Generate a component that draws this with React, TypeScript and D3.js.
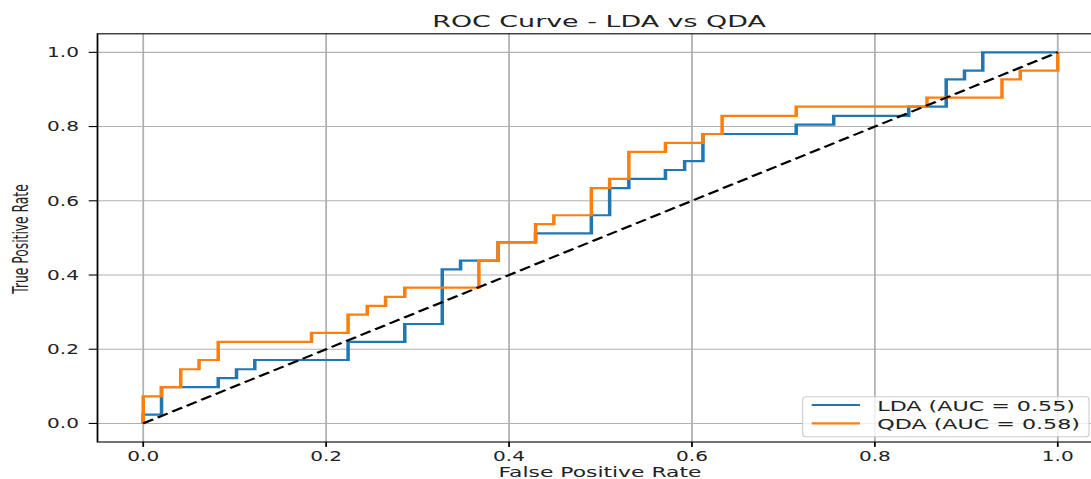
import React, { useRef, useEffect } from "react";
import * as d3 from "d3";

// ROC corner points [fpr, tpr]
const ldaPoints: [number, number][] = [
    [0, 0], [0, 0.024], [0.020, 0.098], [0.082, 0.122], [0.102, 0.146],
    [0.122, 0.171], [0.224, 0.220], [0.286, 0.268], [0.327, 0.415], [0.347, 0.439],
    [0.388, 0.488], [0.429, 0.512], [0.490, 0.561], [0.510, 0.634], [0.531, 0.659],
    [0.571, 0.683], [0.592, 0.707], [0.612, 0.780], [0.714, 0.805], [0.755, 0.829],
    [0.837, 0.854], [0.878, 0.927], [0.898, 0.951], [0.918, 1.0], [1.0, 1.0],
];
const qdaPoints: [number, number][] = [
    [0, 0], [0, 0.073], [0.020, 0.098], [0.041, 0.146], [0.061, 0.171],
    [0.082, 0.220], [0.184, 0.244], [0.224, 0.293], [0.245, 0.317], [0.265, 0.341],
    [0.286, 0.366], [0.367, 0.439], [0.388, 0.488], [0.429, 0.537], [0.449, 0.561],
    [0.490, 0.634], [0.510, 0.659], [0.531, 0.732], [0.571, 0.756], [0.612, 0.780],
    [0.633, 0.829], [0.714, 0.854], [0.857, 0.878], [0.939, 0.927], [0.959, 0.951],
    [1.0, 1.0],
];
const chancePoints: [number, number][] = [[0, 0], [1, 1]];
const xTicks = [0, 0.2, 0.4, 0.6, 0.8, 1.0];
const yTicks = [0, 0.2, 0.4, 0.6, 0.8, 1.0];
const seriesNames = ["LDA (AUC = 0.55)", "QDA (AUC = 0.58)"];
const seriesColors = ["#1f77b4", "#ff7f0e"];

const W = 1091;
const H = 479;
const SX = 1.6; // the picture is stretched sideways

export default function App() {
    const ref = useRef<SVGSVGElement>(null);

    useEffect(() => {
        if (!ref.current) return;
        const svg = d3.select(ref.current);
        svg.selectAll("*").remove();

        const x = d3.scaleLinear().domain([-0.05, 1.05]).range([97.5 / SX, 1103.5 / SX]);
        const y = d3.scaleLinear().domain([-0.05, 1.05]).range([442, 33.8]);
        const [x0, x1] = x.range();
        const [yb, yt] = y.range();

        const g = svg.append("g").attr("transform", `scale(${SX},1)`);

        // grid
        g.selectAll(".gx").data(xTicks).enter().append("line")
            .attr("x1", d => x(d)).attr("x2", d => x(d))
            .attr("y1", yb).attr("y2", yt)
            .attr("stroke", "#b0b0b0").attr("stroke-width", 1.1);
        g.selectAll(".gy").data(yTicks).enter().append("line")
            .attr("x1", x0).attr("x2", x1)
            .attr("y1", d => y(d)).attr("y2", d => y(d))
            .attr("stroke", "#b0b0b0").attr("stroke-width", 1.1);

        // curves
        const step = d3.line<[number, number]>()
            .x(d => x(d[0])).y(d => y(d[1]))
            .curve(d3.curveStepAfter);
        [ldaPoints, qdaPoints].forEach((pts, i) => {
            g.append("path").datum(pts)
                .attr("fill", "none")
                .attr("stroke", seriesColors[i])
                .attr("stroke-width", 2.2)
                .attr("d", step);
        });
        g.append("path").datum(chancePoints)
            .attr("fill", "none")
            .attr("stroke", "#000")
            .attr("stroke-width", 2)
            .attr("stroke-dasharray", "7.4 3.4")
            .attr("d", d3.line<[number, number]>().x(d => x(d[0])).y(d => y(d[1])));

        // spines and ticks
        g.append("rect")
            .attr("x", x0).attr("y", yt)
            .attr("width", x1 - x0).attr("height", yb - yt)
            .attr("fill", "none").attr("stroke", "#000").attr("stroke-width", 1.1);
        g.selectAll(".tx").data(xTicks).enter().append("line")
            .attr("x1", d => x(d)).attr("x2", d => x(d))
            .attr("y1", yb).attr("y2", yb + 4.9)
            .attr("stroke", "#000").attr("stroke-width", 1.1);
        g.selectAll(".ty").data(yTicks).enter().append("line")
            .attr("x1", x0 - 5.5).attr("x2", x0)
            .attr("y1", d => y(d)).attr("y2", d => y(d))
            .attr("stroke", "#000").attr("stroke-width", 1.1);

        const text = (px: number, py: number, str: string, size: number, anchor: string, sx: number, extra = "") =>
            svg.append("text")
                .attr("transform", `translate(${px},${py}) scale(${sx},1)${extra}`)
                .attr("text-anchor", anchor)
                .attr("font-size", size)
                .attr("fill", "#222")
                .text(str);

        xTicks.forEach(t => text(x(t) * SX, 460.7, t.toFixed(1), 13.2, "middle", 1.52));
        yTicks.forEach(t => text(79, y(t) + 4.8, t.toFixed(1), 13.2, "end", 1.52));

        text(599, 27.3, "ROC Curve - LDA vs QDA", 16.5, "middle", 1.63);
        text(600, 477, "False Positive Rate", 13.4, "middle", 1.63);
        text(28.3, 239, "True Positive Rate", 12.3, "middle", 1.74, " rotate(-90)");

        // legend
        svg.append("rect")
            .attr("x", 802.7).attr("y", 396.7)
            .attr("width", 1089 - 802.7).attr("height", 40)
            .attr("rx", 3)
            .attr("fill", "#fff").attr("fill-opacity", 0.8)
            .attr("stroke", "#cccccc").attr("stroke-width", 1.1);
        seriesNames.forEach((name, i) => {
            const ly = 405 + i * 18.3;
            svg.append("line")
                .attr("x1", 811.7).attr("x2", 860)
                .attr("y1", ly).attr("y2", ly)
                .attr("stroke", seriesColors[i]).attr("stroke-width", 2.2);
            text(877.3, ly + 6, name, 13.7, "start", 1.62);
        });
    }, []);

    return (
        <svg ref={ref} width={W} height={H}
            style={{ position: "absolute", left: 0, top: 0, background: "#fff", fontFamily: "DejaVu Sans" }} />
    );
}
